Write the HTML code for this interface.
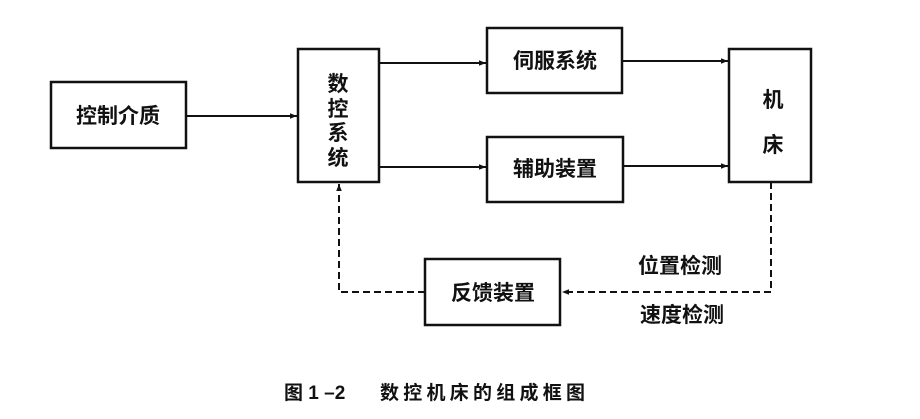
<!DOCTYPE html>
<html><head><meta charset="utf-8"><style>
body{margin:0;background:#fff;}
svg text{font-family:"Liberation Sans","Noto Sans CJK SC",sans-serif;font-weight:bold;fill:#111;}
</style></head><body>
<svg width="920" height="414" viewBox="0 0 920 414" xmlns="http://www.w3.org/2000/svg">
<defs>
<marker id="a" viewBox="0 0 10 10" refX="10" refY="5" markerWidth="10" markerHeight="7" markerUnits="userSpaceOnUse" orient="auto"><path d="M0,1 L10,5 L0,9 z" fill="#111"/></marker>
</defs>
<g fill="none" stroke="#111" stroke-width="2.5">
<rect x="51" y="82" width="135" height="66"/>
<rect x="298" y="49" width="81" height="133"/>
<rect x="487" y="28" width="135" height="65"/>
<rect x="487" y="137" width="136" height="65"/>
<rect x="729" y="49" width="82" height="133"/>
<rect x="425" y="259" width="135" height="66"/>
</g>
<g stroke="#111" stroke-width="2" fill="none" marker-end="url(#a)">
<line x1="186" y1="116" x2="297" y2="116"/>
<line x1="379" y1="63" x2="486" y2="63"/>
<line x1="379" y1="167" x2="486" y2="167"/>
<line x1="622" y1="61" x2="728" y2="61"/>
<line x1="623" y1="166" x2="728" y2="166"/>
</g>
<g stroke="#111" stroke-width="2" fill="none" stroke-dasharray="7,4">
<polyline points="771,182 771,292 562,292" marker-end="url(#a)"/>
<polyline points="425,292 339,292 339,184" marker-end="url(#a)"/>
</g>
<g font-size="21" text-anchor="middle">
<text x="118" y="123">控制介质</text>
<text x="555" y="68">伺服系统</text>
<text x="555" y="176">辅助装置</text>
<text x="493" y="300">反馈装置</text>
<text x="338" y="91">数</text>
<text x="338" y="116">控</text>
<text x="338" y="140">系</text>
<text x="338" y="165">统</text>
<text x="773" y="107">机</text>
<text x="773" y="152">床</text>
<text x="680" y="273">位置检测</text>
<text x="682" y="322">速度检测</text>
</g>
<text x="284" y="399" font-size="19">图 1 –2</text>
<text x="380" y="399" font-size="19" textLength="205">数控机床的组成框图</text>
</svg>
</body></html>
